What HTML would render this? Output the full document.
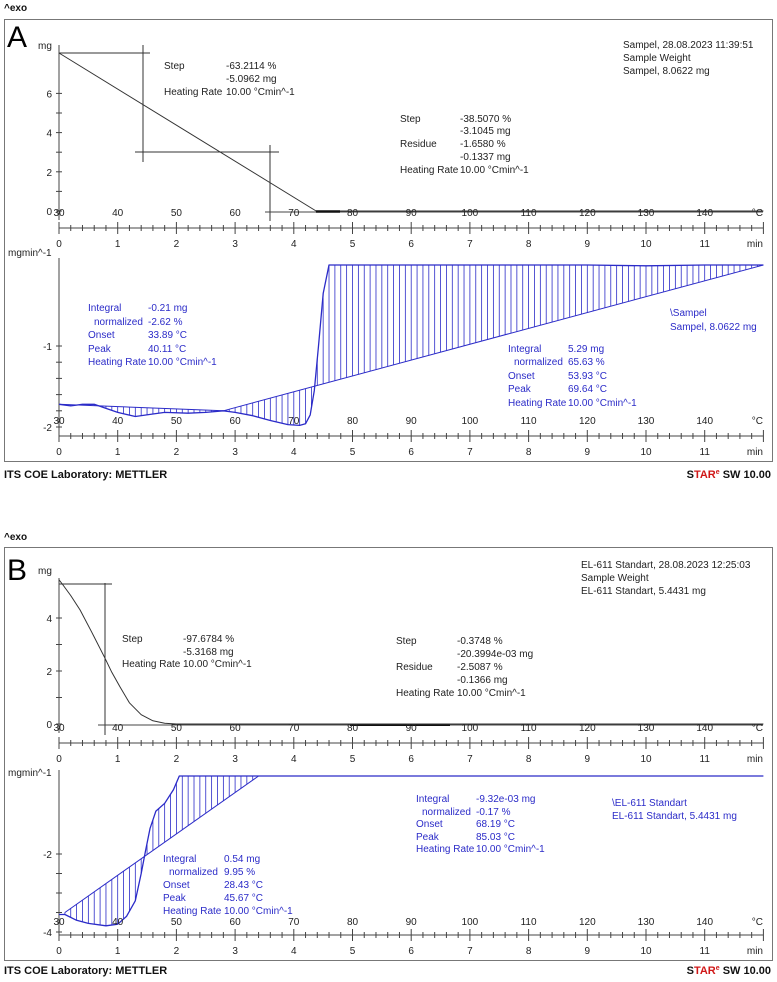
<!DOCTYPE html>
<html><head><meta charset="utf-8"><style>
html,body{margin:0;padding:0;background:#fff;}
svg{display:block;font-family:"Liberation Sans",sans-serif;}
.t{font-size:10px;fill:#222;}
.b{font-size:10px;fill:#2b2bc8;}
</style></head><body>
<svg id="s" width="777" height="982" viewBox="0 0 777 982">
<g>
<text x="4" y="11" font-size="10" font-weight="bold" fill="#111">^exo</text>
<rect x="4.5" y="19.5" width="768" height="442" fill="none" stroke="#777"/>
<text x="7" y="47" font-size="30" fill="#000">A</text>
<text class="t"><tspan x="623" y="48">Sampel, 28.08.2023 11:39:51</tspan><tspan x="623" dy="13">Sample Weight</tspan><tspan x="623" dy="13">Sampel, 8.0622 mg</tspan></text>
<text class="t"><tspan x="164" y="69">Step</tspan><tspan x="226" y="69">-63.2114 %</tspan><tspan x="226" y="82">-5.0962 mg</tspan><tspan x="164" y="95">Heating Rate</tspan><tspan x="226" y="95">10.00 °Cmin^-1</tspan></text>
<text class="t"><tspan x="400" y="122">Step</tspan><tspan x="460" y="122">-38.5070 %</tspan><tspan x="460" y="134">-3.1045 mg</tspan><tspan x="400" y="147">Residue</tspan><tspan x="460" y="147">-1.6580 %</tspan><tspan x="460" y="160">-0.1337 mg</tspan><tspan x="400" y="173">Heating Rate</tspan><tspan x="460" y="173">10.00 °Cmin^-1</tspan></text>
<text class="b"><tspan x="88" y="311">Integral</tspan><tspan x="148" y="311">-0.21 mg</tspan><tspan x="94" y="325">normalized</tspan><tspan x="148" y="325">-2.62 %</tspan><tspan x="88" y="338">Onset</tspan><tspan x="148" y="338">33.89 °C</tspan><tspan x="88" y="352">Peak</tspan><tspan x="148" y="352">40.11 °C</tspan><tspan x="88" y="365">Heating Rate</tspan><tspan x="148" y="365">10.00 °Cmin^-1</tspan></text>
<text class="b"><tspan x="508" y="352">Integral</tspan><tspan x="568" y="352">5.29 mg</tspan><tspan x="514" y="365">normalized</tspan><tspan x="568" y="365">65.63 %</tspan><tspan x="508" y="379">Onset</tspan><tspan x="568" y="379">53.93 °C</tspan><tspan x="508" y="392">Peak</tspan><tspan x="568" y="392">69.64 °C</tspan><tspan x="508" y="406">Heating Rate</tspan><tspan x="568" y="406">10.00 °Cmin^-1</tspan></text>
<text class="b"><tspan x="670" y="316">\Sampel</tspan><tspan x="670" y="330">Sampel, 8.0622 mg</tspan></text>
<text x="4" y="478" font-size="11" font-weight="bold" fill="#111">ITS COE Laboratory: METTLER</text>
<text x="771" y="478" text-anchor="end" font-size="11" font-weight="bold" fill="#111">S<tspan fill="#d01818">TAR</tspan><tspan fill="#d01818" font-size="7" dy="-4">e</tspan><tspan dy="4"> SW 10.00</tspan></text>
<line x1="143" y1="45" x2="143" y2="162" stroke="#333"/>
<line x1="59" y1="53" x2="150" y2="53" stroke="#333"/>
<line x1="135" y1="152" x2="279" y2="152" stroke="#333"/>
<line x1="270" y1="145" x2="270" y2="221" stroke="#333"/>
</g>
<g>
<text x="4" y="540" font-size="10" font-weight="bold" fill="#111">^exo</text>
<rect x="4.5" y="547.5" width="768" height="413" fill="none" stroke="#777"/>
<text x="7" y="580" font-size="30" fill="#000">B</text>
<text class="t"><tspan x="581" y="568">EL-611 Standart, 28.08.2023 12:25:03</tspan><tspan x="581" y="581">Sample Weight</tspan><tspan x="581" y="594">EL-611 Standart, 5.4431 mg</tspan></text>
<text class="t"><tspan x="122" y="642">Step</tspan><tspan x="183" y="642">-97.6784 %</tspan><tspan x="183" y="655">-5.3168 mg</tspan><tspan x="122" y="667">Heating Rate</tspan><tspan x="183" y="667">10.00 °Cmin^-1</tspan></text>
<text class="t"><tspan x="396" y="644">Step</tspan><tspan x="457" y="644">-0.3748 %</tspan><tspan x="457" y="657">-20.3994e-03 mg</tspan><tspan x="396" y="670">Residue</tspan><tspan x="457" y="670">-2.5087 %</tspan><tspan x="457" y="683">-0.1366 mg</tspan><tspan x="396" y="696">Heating Rate</tspan><tspan x="457" y="696">10.00 °Cmin^-1</tspan></text>
<text class="b"><tspan x="416" y="802">Integral</tspan><tspan x="476" y="802">-9.32e-03 mg</tspan><tspan x="422" y="815">normalized</tspan><tspan x="476" y="815">-0.17 %</tspan><tspan x="416" y="827">Onset</tspan><tspan x="476" y="827">68.19 °C</tspan><tspan x="416" y="840">Peak</tspan><tspan x="476" y="840">85.03 °C</tspan><tspan x="416" y="852">Heating Rate</tspan><tspan x="476" y="852">10.00 °Cmin^-1</tspan></text>
<text class="b"><tspan x="163" y="862">Integral</tspan><tspan x="224" y="862">0.54 mg</tspan><tspan x="169" y="875">normalized</tspan><tspan x="224" y="875">9.95 %</tspan><tspan x="163" y="888">Onset</tspan><tspan x="224" y="888">28.43 °C</tspan><tspan x="163" y="901">Peak</tspan><tspan x="224" y="901">45.67 °C</tspan><tspan x="163" y="914">Heating Rate</tspan><tspan x="224" y="914">10.00 °Cmin^-1</tspan></text>
<text class="b"><tspan x="612" y="806">\EL-611 Standart</tspan><tspan x="612" y="819">EL-611 Standart, 5.4431 mg</tspan></text>
<text x="4" y="974" font-size="11" font-weight="bold" fill="#111">ITS COE Laboratory: METTLER</text>
<text x="771" y="974" text-anchor="end" font-size="11" font-weight="bold" fill="#111">S<tspan fill="#d01818">TAR</tspan><tspan fill="#d01818" font-size="7" dy="-4">e</tspan><tspan dy="4"> SW 10.00</tspan></text>
<line x1="105" y1="583" x2="105" y2="735" stroke="#333"/>
<line x1="59" y1="584" x2="112" y2="584" stroke="#333"/>
</g>
</svg>
<script>
// ---- data ----
const timeTicks = [0,1,2,3,4,5,6,7,8,9,10,11];
const tempTicks = [30,40,50,60,70,80,90,100,110,120,130,140];
const tgA_t = [0, 4.38, 4.7, 12];
const tgA_m = [8.06, 0.0, 0.0, 0.0];
const dtgA_t = [0,0.2,0.4,0.6,0.8,1.0,1.3,1.6,1.8,2.2,2.5,2.8,3.0,3.3,3.6,3.9,4.1,4.2,4.28,4.35,4.42,4.5,4.6,5,7,9,10,11,12];
const dtgA_v = [-1.72,-1.74,-1.72,-1.72,-1.77,-1.82,-1.87,-1.84,-1.82,-1.83,-1.82,-1.8,-1.82,-1.86,-1.92,-1.97,-1.98,-1.96,-1.85,-1.55,-1.0,-0.35,0.0,0.0,0.0,0.0,-0.01,0.0,0.0];
const baseA1_t = [0, 2.8];
const baseA1_v = [-1.72, -1.8];
const baseA2_t = [2.8, 12];
const baseA2_v = [-1.8, 0.0];
const tgB_t = [0,0.05,0.2,0.36,0.55,0.78,0.9,1.04,1.2,1.4,1.6,1.8,2.0,12];
const tgB_m = [5.44,5.3,4.85,4.3,3.5,2.5,1.95,1.4,0.8,0.35,0.12,0.03,0,0];
const dtgB_t = [0,0.1,0.3,0.5,0.8,1.0,1.15,1.3,1.4,1.47,1.55,1.65,1.8,1.95,2.05,3.4,4.3,12];
const dtgB_v = [-3.55,-3.55,-3.7,-3.78,-3.84,-3.8,-3.6,-3.2,-2.5,-1.95,-1.35,-0.9,-0.7,-0.35,0,0,0,0];
const baseB_t = [0.1, 3.4];
const baseB_v = [-3.5, 0.0];
// ---- axes ----
const tx = t => 59 + t*58.7;
const yTgA = m => 211 - m*19.6;
const yDtgA = v => 265 - v*81;
const yTgB = m => 724 - m*26.5;
const yDtgB = v => 776 - v*39;
const S = document.getElementById('s');
const NS = 'http://www.w3.org/2000/svg';
function mk(tag, attrs, parent){const e=document.createElementNS(NS,tag);for(const k in attrs)e.setAttribute(k,attrs[k]);(parent||S).appendChild(e);return e;}
function interp(ts,vs,t){if(t<=ts[0])return vs[0];for(let i=1;i<ts.length;i++){if(t<=ts[i]){const f=(t-ts[i-1])/(ts[i]-ts[i-1]);return vs[i-1]+f*(vs[i]-vs[i-1]);}}return vs[vs.length-1];}
function poly(ts,vs,yf,col,w,name){
  const p=mk('polyline',{points:ts.map((t,i)=>tx(t).toFixed(1)+','+yf(vs[i]).toFixed(1)).join(' '),fill:'none',stroke:col,'stroke-width':w,'stroke-linejoin':'round'});
  
  
}
function hatch(ts,vs,bt,bv,yf,name){
  const g=mk('g',{stroke:'#2b2bc8','stroke-width':0.8});
  
  
  for(let t=bt[0];t<=bt[bt.length-1]+1e-6;t+=0.1){
    const y1=yf(interp(ts,vs,t)), y2=yf(interp(bt,bv,t));
    mk('line',{x1:tx(t),x2:tx(t),y1:y1,y2:y2},g);
  }
  poly(bt,bv,yf,'#2b2bc8',1,name+'-baseline');
}
function timeAxis(y, tag){
  const g=mk('g',{stroke:'#444','stroke-width':1});
  
  
  mk('line',{x1:59,y1:y,x2:763,y2:y},g);
  for(let i=0;i<=60;i++){const x=tx(i*0.2);const big=i%5===0;mk('line',{x1:x,x2:x,y1:y-(big?6:3),y2:y+(big?6:3)},g);}
  timeTicks.forEach(t=>{const e=mk('text',{x:tx(t),y:y+19,'text-anchor':'middle','class':'t',stroke:'none'});e.textContent=t;
    
    });
  const m=mk('text',{x:763,y:y+19,'text-anchor':'end','class':'t'});m.textContent='min';
  
  
}
function tempLabels(y, tag){
  tempTicks.forEach((c,i)=>{const e=mk('text',{x:tx(i),y:y,'text-anchor':'middle','class':'t'});e.textContent=c;
    
    });
  const u=mk('text',{x:763,y:y,'text-anchor':'end','class':'t'});u.textContent='°C';
  
  
}
function yAxis(y0,y1,ticks,yf,minorStep,unit,uy,tag){
  const g=mk('g',{stroke:'#444'});
  
  
  mk('line',{x1:59,x2:59,y1:y0,y2:y1},g);
  const lo=Math.min(...ticks), hi=Math.max(...ticks);
  for(let v=lo;v<=hi+1e-6;v+=minorStep){mk('line',{x1:56,x2:62,y1:yf(v),y2:yf(v)},g);}
  ticks.forEach(v=>{const e=mk('text',{x:52,y:yf(v)+4,'text-anchor':'end','class':'t',stroke:'none'});e.textContent=v;
    
    });
  const u=mk('text',{x:unit==='mg'?38:8,y:uy,'class':'t'});u.textContent=unit;
  
  
}
// Panel A
yAxis(45,220,[0,2,4,6],yTgA,1,'mg',49,'tg-a');
mk('line',{x1:265,y1:212,x2:763,y2:212,stroke:'#444'});
tempLabels(216,'tg-a');
timeAxis(228,'tg-a');
poly(tgA_t,tgA_m,yTgA,'#333',1,'tg-curve-a');
mk('line',{x1:316,y1:211.5,x2:340,y2:211.5,stroke:'#111','stroke-width':2.5});
yAxis(258,435,[-1,-2],yDtgA,0.2,'mgmin^-1',256,'dtg-a');
hatch(dtgA_t,dtgA_v,baseA1_t,baseA1_v,yDtgA,'integral1-hatch-a');
hatch(dtgA_t,dtgA_v,baseA2_t,baseA2_v,yDtgA,'integral2-hatch-a');
poly(dtgA_t,dtgA_v,yDtgA,'#2b2bc8',1.3,'dtg-curve-a');
tempLabels(424,'dtg-a');
timeAxis(436,'dtg-a');
// Panel B
yAxis(578,733,[0,2,4],yTgB,1,'mg',574,'tg-b');
mk('line',{x1:98,y1:725,x2:763,y2:725,stroke:'#444'});
mk('line',{x1:350,y1:725,x2:450,y2:725,stroke:'#111','stroke-width':2});
tempLabels(731,'tg-b');
timeAxis(743,'tg-b');
poly(tgB_t,tgB_m,yTgB,'#333',1,'tg-curve-b');
yAxis(770,934,[-2,-4],yDtgB,0.5,'mgmin^-1',776,'dtg-b');
hatch(dtgB_t,dtgB_v,baseB_t,baseB_v,yDtgB,'integral1-hatch-b');
poly(dtgB_t,dtgB_v,yDtgB,'#2b2bc8',1.3,'dtg-curve-b');
tempLabels(925,'dtg-b');
timeAxis(935,'dtg-b');
</script>
</body></html>
